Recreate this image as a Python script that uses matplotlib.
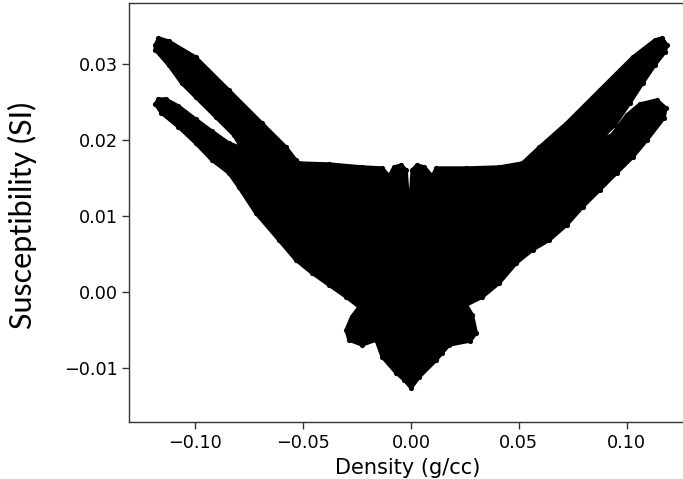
import numpy as np
import matplotlib.pyplot as plt

# outline of the point cloud (density g/cc, susceptibility SI), traced clockwise
density = [
    -0.1184, -0.1170, -0.1123, -0.0998, -0.0844, -0.0691, -0.0579, -0.0533,
    -0.0519, -0.0380, -0.0226, -0.0133, -0.0101, -0.0078, -0.0045, -0.0022,
    -0.0013, -0.0008, -0.0003, 0.0006, 0.0029, 0.0062, 0.0099, 0.0118,
    0.0257, 0.0410, 0.0517, 0.0596, 0.0722, 0.0875, 0.1029, 0.1131,
    0.1164, 0.1187, 0.1178, 0.1131, 0.1075, 0.1015, 0.0945, 0.0875,
    0.0931, 0.1001, 0.1061, 0.1140, 0.1182, 0.1173, 0.1094, 0.1029,
    0.0954, 0.0875, 0.0796, 0.0722, 0.0642, 0.0564, 0.0489, 0.0410,
    0.0331, 0.0257, 0.0285, 0.0303, 0.0275, 0.0178, 0.0145, 0.0118,
    0.0039, 0.0001, -0.0031, -0.0068, -0.0133, -0.0161, -0.0226, -0.0287,
    -0.0300, -0.0275, -0.0240, -0.0300, -0.0380, -0.0459, -0.0533, -0.0612,
    -0.0719, -0.0798, -0.0844, -0.0923, -0.0998, -0.1077, -0.1156, -0.1184,
    -0.1170, -0.1137, -0.1077, -0.0998, -0.0923, -0.0844, -0.0784, -0.0821,
    -0.0905, -0.0998, -0.1063, -0.1123, -0.1184,
]
suscept = [
    0.03246, 0.03338, 0.03298, 0.03088, 0.02654, 0.02221, 0.01905, 0.01735,
    0.01695, 0.01682, 0.01643, 0.01629, 0.01524, 0.01643, 0.01669, 0.01603,
    0.01209, 0.00644, 0.01209, 0.01603, 0.01669, 0.01643, 0.01524, 0.01629,
    0.01629, 0.01643, 0.01695, 0.01905, 0.02221, 0.02654, 0.03088, 0.03311,
    0.03338, 0.03246, 0.03154, 0.02983, 0.02746, 0.02484, 0.02194, 0.01997,
    0.02063, 0.02326, 0.02470, 0.02523, 0.02418, 0.02286, 0.01997, 0.01774,
    0.01564, 0.01340, 0.01117, 0.00880, 0.00683, 0.00552, 0.00381, 0.00118,
    -0.00066, -0.00171, -0.00302, -0.00539, -0.00643, -0.00696, -0.00800, -0.00894,
    -0.01117, -0.01261, -0.01156, -0.01064, -0.00854, -0.00631, -0.00696, -0.00631,
    -0.00499, -0.00329, -0.00197, -0.00066, 0.00092, 0.00250, 0.00420, 0.00683,
    0.01038, 0.01380, 0.01564, 0.01735, 0.01958, 0.02168, 0.02352, 0.02470,
    0.02536, 0.02536, 0.02444, 0.02273, 0.02116, 0.01958, 0.01892, 0.02063,
    0.02300, 0.02562, 0.02746, 0.02983, 0.03180,
]

xticks = [-0.10, -0.05, 0.00, 0.05, 0.10]
yticks = [-0.01, 0.00, 0.01, 0.02, 0.03]

fig = plt.figure(figsize=(6.83, 4.79), dpi=100)
ax = fig.add_axes([129.3/683, 56.7/479, (686-129.3)/683, 419/479])

ax.fill(density, suscept, color='black', lw=2.5, joinstyle='round')
ax.scatter(density, suscept, s=14, color='black', lw=0)

ax.set_xlim(-0.1305, 0.1275)
ax.set_ylim(-0.01712, 0.03794)
ax.set_xticks(xticks)
ax.set_yticks(yticks)
ax.set_xticklabels(['\u22120.10', '\u22120.05', '0.00', '0.05', '0.10'])
ax.set_yticklabels(['\u22120.01', '0.00', '0.01', '0.02', '0.03'])
ax.tick_params(labelsize=12.7, length=5, width=1, color='#333333')
for s in ax.spines.values():
    s.set_color('#333333')
    s.set_linewidth(1.0)

ax.set_xlabel('Density (g/cc)', fontsize=15, labelpad=4)
fig.text(22/683, 1 - 215/479, 'Susceptibility (SI)', rotation=90,
         ha='center', va='center', fontsize=22, family='Lato')

fig.savefig('out.png', dpi=100)
